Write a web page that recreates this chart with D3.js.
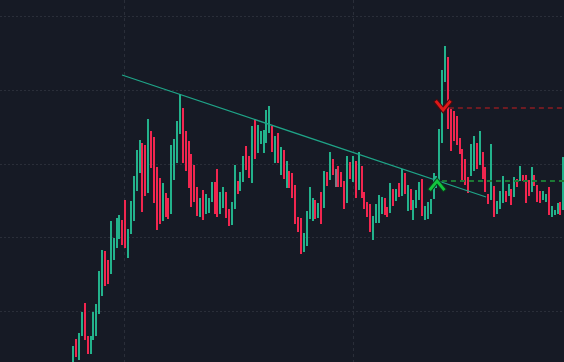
<!DOCTYPE html>
<html>
<head>
<meta charset="utf-8">
<script src="https://cdn.jsdelivr.net/npm/d3@7"></script>
<style>
  html, body { margin: 0; padding: 0; background: #161a25; }
  svg { display: block; }
</style>
</head>
<body>
<svg id="chart" width="564" height="362"></svg>
<script>
// ---- data (price units) ----
const highs = [16,23,29,50,59,26,26,50,58,91,112,111,102,141,124,144,147,142,162,133,161,186,212,222,219,217,243,231,225,195,184,179,169,164,217,223,241,268,254,231,221,208,197,175,164,172,168,164,180,180,193,170,175,170,153,160,197,181,190,206,216,206,236,243,237,231,232,252,256,236,226,229,215,212,201,191,189,177,145,144,129,151,175,164,162,159,170,191,190,210,203,193,196,190,181,206,200,206,201,210,196,170,160,158,146,158,167,165,164,155,179,173,173,179,193,189,177,173,162,172,180,183,156,160,163,189,186,233,292,316,305,253,251,246,224,213,203,185,218,226,219,231,210,195,168,218,176,161,171,186,171,178,173,185,183,196,187,187,182,195,187,177,171,171,168,175,156,152,159,160,205];
const lows  = [-3,5,2,26,22,8,8,22,26,48,66,76,78,88,102,114,123,117,114,104,128,141,171,189,150,166,169,194,159,132,138,141,145,143,148,182,199,228,199,191,174,155,160,146,145,142,148,149,160,148,145,148,154,144,136,137,153,168,171,180,192,184,179,203,209,218,209,219,229,210,199,199,187,183,174,174,164,138,130,108,110,116,143,141,143,144,138,154,176,182,187,175,175,175,153,159,183,180,164,172,164,153,145,130,122,139,139,148,147,145,149,156,161,165,166,168,151,152,142,154,162,146,142,143,148,163,174,179,219,280,233,211,221,217,208,182,177,169,186,191,193,197,183,170,158,162,145,148,153,159,160,166,157,165,175,181,181,159,166,170,176,160,159,162,160,147,145,147,148,147,152];
// u = up bar, d = down bar, n = unchanged
const sides = ("uduudduuuu" + "udduuuuddu" + "uuuudduddd" + "dudduuuudd" +
               "dddduduuud" + "duudduuduu" + "dduduuuuud" + "udududdddd" +
               "uuuudududu" + "dndddududu" + "dddduuuudd" + "ududududuu" +
               "uduuuuuuuu" + "dddddddduu" + "duddduduuu" + "dudududddu" +
               "ddduuduuud" + "u").split("");
const trendLine = [[16.9, 287], [143.2, 165]];        // [bar index, price]
const buySignal  = { index: 126.2, price: 182 };
const sellSignal = { index: 128.3, price: 251 };
const buyLevel   = { from: 127.9, price: 181 };
const sellLevel  = { from: 130.3, price: 254 };
const priceGrid  = [51, 125, 198.5, 272, 346];
const timeGrid   = [17.6, 97];

// ---- colors ----
const BG = "#161a25", GRID = "#2a2e39";
const UP = "#23b28c", DOWN = "#f2264f", NEUTRAL = "#787b86";

const W = 564, H = 362;
const svg = d3.select("#chart");
svg.append("rect").attr("width", W).attr("height", H).attr("fill", BG);

const x = d3.scaleLinear().domain([0, 170]).range([73.3, 563.3]);
const y = d3.scaleLinear().domain([0, 362]).range([362, 0]);

// grid
svg.append("g").selectAll("line").data(priceGrid).join("line")
  .attr("x1", 0).attr("x2", W)
  .attr("y1", d => Math.round(y(d)) + 0.5).attr("y2", d => Math.round(y(d)) + 0.5)
  .attr("stroke", GRID).attr("stroke-width", 1).attr("stroke-dasharray", "2,2");
svg.append("g").selectAll("line").data(timeGrid).join("line")
  .attr("x1", d => Math.round(x(d)) + 0.5).attr("x2", d => Math.round(x(d)) + 0.5)
  .attr("y1", 0).attr("y2", H)
  .attr("stroke", GRID).attr("stroke-width", 1).attr("stroke-dasharray", "3,3");

// bars
const bars = highs.map((h, i) => ({ i, h, l: lows[i], s: sides[i] }));
svg.append("g").selectAll("rect").data(bars).join("rect")
  .attr("x", d => Math.round(x(d.i)) - 1)
  .attr("width", 2)
  .attr("y", d => y(d.h))
  .attr("height", d => Math.max(1, y(d.l) - y(d.h)))
  .attr("fill", d => d.s === "u" ? UP : d.s === "d" ? DOWN : NEUTRAL);

// trend line
svg.append("line")
  .attr("x1", x(trendLine[0][0])).attr("y1", y(trendLine[0][1]))
  .attr("x2", x(trendLine[1][0])).attr("y2", y(trendLine[1][1]))
  .attr("stroke", "#1fa588").attr("stroke-width", 1.3);

// levels
svg.append("line")
  .attr("x1", x(sellLevel.from)).attr("x2", W)
  .attr("y1", y(sellLevel.price)).attr("y2", y(sellLevel.price))
  .attr("stroke", "#8c1d22").attr("stroke-width", 1.6).attr("stroke-dasharray", "5,4");
svg.append("line")
  .attr("x1", x(buyLevel.from)).attr("x2", W)
  .attr("y1", y(buyLevel.price)).attr("y2", y(buyLevel.price))
  .attr("stroke", "#1c7a36").attr("stroke-width", 1.8).attr("stroke-dasharray", "5,4");

// signals
function chevron(cx, tipY, dir, color, outline) {
  const h = 8 * dir, w = 6.5;
  const p = `M${cx - w},${tipY - h} L${cx},${tipY} L${cx + w},${tipY - h}`;
  svg.append("path").attr("d", p).attr("fill", "none")
    .attr("stroke", outline).attr("stroke-width", 5).attr("stroke-linejoin", "miter").attr("stroke-linecap", "square");
  svg.append("path").attr("d", p).attr("fill", "none")
    .attr("stroke", color).attr("stroke-width", 2.8).attr("stroke-linejoin", "miter").attr("stroke-linecap", "square");
}
chevron(x(sellSignal.index), y(sellSignal.price) - 1, 1, "#e01818", "#4a0c10");
chevron(x(buySignal.index), y(buySignal.price) + 1, -1, "#12c63e", "#0a3f1c");
</script>
</body>
</html>
